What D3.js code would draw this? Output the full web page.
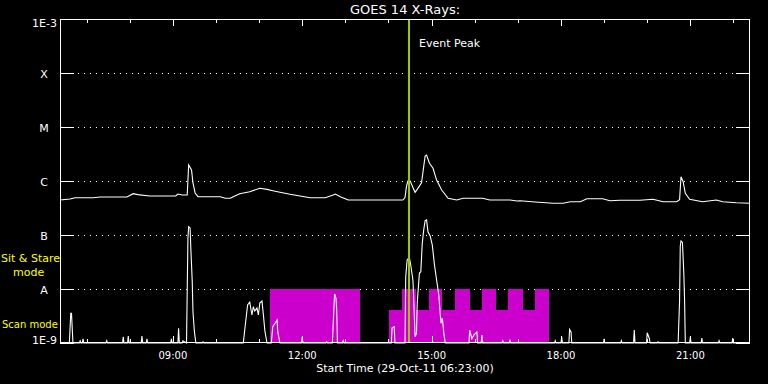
<!DOCTYPE html>
<html><head><meta charset="utf-8">
<script src="https://cdn.jsdelivr.net/npm/d3@7"></script>
<style>html,body{margin:0;padding:0;background:#000;}svg{display:block;}</style>
</head><body>
<svg id="chart" width="768" height="384"></svg>
<script>
// ---------- data ----------
const chartTitle = "GOES 14 X-Rays:";
const startLabel = "Start Time (29-Oct-11 06:23:00)";
const timeRange = ["06:23", "22:23"];
const decades = [-9, -8, -7, -6, -5, -4, -3];
const decadeLabels = ["1E-9", "A", "B", "C", "M", "X", "1E-3"];
const majorHours = [9, 12, 15, 18, 21];
const eventPeak = "14:29";
const eventLabel = "Event Peak";

// GOES long channel (1-8 A), W/m^2
const goesLong = [
 ["06:23",4.45e-7],["06:37",4.64e-7],["06:44",4.91e-7],["07:09",4.91e-7],["07:19",5.06e-7],["07:56",5.06e-7],
 ["08:05",5.82e-7],["08:11",5.6e-7],["08:28",5.27e-7],["09:04",5.27e-7],["09:07",5.74e-7],["09:13",5.5e-7],
 ["09:20",5.5e-7],["09:22",1.98e-6],["09:26",1.6e-6],["09:28",9.2e-7],["09:31",6.0e-7],["09:35",5.12e-7],
 ["10:06",5.12e-7],["10:13",4.78e-7],["10:20",4.78e-7],["10:24",5.12e-7],["10:33",5.82e-7],["10:47",6.34e-7],
 ["11:01",7.32e-7],["11:11",7.0e-7],["11:19",6.61e-7],["11:29",6.18e-7],["11:43",5.67e-7],["11:57",5.27e-7],
 ["12:11",4.91e-7],["12:32",4.91e-7],["12:43",5.5e-7],["12:46",5.74e-7],["12:53",5.12e-7],["13:04",4.45e-7],
 ["14:20",4.45e-7],["14:23",4.95e-7],["14:25",7.84e-7],["14:27",1.0e-6],["14:30",1.01e-6],["14:37",6.18e-7],
 ["14:41",7.32e-7],["14:46",9.3e-7],["14:51",2.9e-6],["14:53",3.03e-6],["14:57",2.13e-6],["15:02",1.72e-6],
 ["15:07",1.04e-6],["15:14",6.81e-7],["15:23",4.78e-7],["15:35",4.45e-7],["15:44",4.78e-7],["16:11",4.78e-7],
 ["16:21",4.45e-7],["16:49",4.45e-7],["16:59",4.26e-7],["17:03",4.32e-7],["17:24",4.08e-7],["17:49",3.86e-7],
 ["18:03",3.86e-7],["18:13",4.14e-7],["18:27",4.14e-7],["18:36",4.7e-7],["18:58",4.7e-7],["19:08",4.32e-7],
 ["19:22",4.39e-7],["19:50",4.39e-7],["20:08",4.58e-7],["20:22",4.14e-7],["20:41",4.14e-7],["20:45",4.5e-7],
 ["20:47",1.2e-6],["20:50",9.7e-7],["20:53",5.92e-7],["20:59",4.58e-7],["21:17",4.14e-7],["21:36",4.45e-7],
 ["21:45",4.14e-7],["22:04",3.96e-7],["22:23",3.86e-7]
];

// GOES short channel (0.5-4 A), W/m^2 (values at 1E-9 sit on the floor)
const goesShort = [
 ["06:23",1e-9],["06:36",1e-9],["06:38",3.55e-9],["06:39",3.55e-9],["06:41",1e-9],
 ["06:50",1e-9],["06:51",1.09e-9],["06:52",1e-9],["06:54",1e-9],["06:55",1.19e-9],["06:56",1e-9],
 ["07:27",1e-9],["07:28",1.1e-9],["07:29",1e-9],["07:50",1e-9],["07:51",1.3e-9],["07:52",1e-9],
 ["07:57",1e-9],["07:58",1.35e-9],["07:59",1e-9],["08:16",1e-9],["08:17",1.35e-9],["08:18",1e-9],
 ["08:23",1e-9],["08:24",1.2e-9],["08:25",1e-9],["08:57",1e-9],["08:58",1.2e-9],["08:59",1e-9],
 ["09:07",1e-9],["09:08",1.87e-9],["09:09",1e-9],["09:13",1e-9],["09:14",1.1e-9],["09:19",1e-9],
 ["09:21",8.8e-8],["09:22",1.43e-7],["09:24",1.35e-7],["09:25",5.74e-8],["09:27",1.37e-8],["09:28",3.8e-9],
 ["09:30",1.62e-9],["09:32",1e-9],["09:41",1e-9],["09:42",1.05e-9],["09:43",1e-9],
 ["10:38",1e-9],["10:40",1.74e-9],["10:44",5.06e-9],["10:47",5.74e-9],["10:50",3.3e-9],["10:52",4.7e-9],
 ["10:54",3.9e-9],["10:57",4.45e-9],["10:59",3.3e-9],["11:01",5.5e-9],["11:04",6.0e-9],["11:06",3.3e-9],
 ["11:08",1.7e-9],["11:11",1e-9],["11:17",1e-9],["11:19",2.0e-9],["11:22",2.3e-9],["11:25",2.67e-9],
 ["11:26",1.6e-9],["11:29",1e-9],["11:59",1e-9],["12:00",1.29e-9],["12:01",1e-9],
 ["12:33",1e-9],["12:34",1.05e-9],["12:35",1e-9],["12:42",1e-9],["12:43",2.1e-9],["12:45",8.1e-9],
 ["12:47",6.7e-9],["12:48",4.08e-9],["12:49",1e-9],["12:56",1e-9],["12:57",1.1e-9],["12:58",1e-9],
 ["14:04",1e-9],["14:05",1.9e-9],["14:08",2.0e-9],["14:09",1e-9],
 ["14:23",1e-9],["14:24",1.69e-8],["14:26",3.44e-8],["14:29",3.86e-8],["14:31",2.78e-8],["14:34",1.47e-8],
 ["14:35",7.2e-9],["14:37",1.31e-9],["14:39",1.51e-9],["14:40",5.43e-9],["14:43",1.95e-8],["14:45",2.09e-8],
 ["14:47",7.0e-8],["14:49",1.24e-7],["14:51",1.84e-7],["14:53",1.9e-7],["14:55",1.15e-7],["14:58",9.6e-8],
 ["15:01",6.5e-8],["15:04",2.78e-8],["15:07",1.47e-8],["15:10",7.7e-9],["15:13",2.32e-9],["15:15",2.87e-9],
 ["15:17",1.51e-9],["15:19",1e-9],
 ["15:52",1e-9],["15:53",1.74e-9],["15:56",1.2e-9],["15:59",1.41e-9],["16:03",1.6e-9],["16:04",1e-9],
 ["16:09",1e-9],["16:10",1.4e-9],["16:11",1e-9],["16:38",1e-9],["16:39",1.1e-9],["16:40",1e-9],
 ["16:48",1e-9],["16:49",1.15e-9],["16:50",1e-9],["17:51",1e-9],["17:52",1.1e-9],["17:53",1e-9],
 ["18:00",1e-9],["18:01",1.29e-9],["18:02",1e-9],["18:11",1e-9],["18:12",1.79e-9],["18:14",1.6e-9],["18:15",1e-9],
 ["18:59",1e-9],["19:00",1.2e-9],["19:01",1e-9],["19:23",1e-9],["19:24",1.1e-9],["19:25",1e-9],
 ["19:41",1e-9],["19:42",1.74e-9],["19:43",1e-9],["19:59",1e-9],["20:00",1.55e-9],["20:03",1.2e-9],["20:04",1e-9],
 ["20:14",1e-9],["20:15",1.05e-9],["20:16",1e-9],
 ["20:43",1e-9],["20:45",6e-9],["20:46",6.25e-8],["20:47",7.75e-8],["20:49",7.3e-8],["20:50",3.7e-8],
 ["20:51",1.82e-8],["20:52",6e-9],["20:53",1e-9],
 ["20:59",1e-9],["21:00",1.29e-9],["21:01",1e-9],["21:15",1e-9],["21:16",1.24e-9],["21:17",1e-9],
 ["21:39",1e-9],["21:40",1.1e-9],["21:41",1e-9],["21:58",1e-9],["21:59",1.24e-9],["22:00",1e-9],
 ["22:23",1e-9]
];

// Observation modes: interval start, end, mode
const modeNames = ["scan", "sit"];
const modeLabelLines = [["Scan mode"], ["Sit & Stare", "mode"]];
const modeTopFlux = [4.1e-9, 1e-8];
const obsBlocks = [
 ["11:15","13:20","sit"],
 ["14:01","17:43","scan"],
 ["14:19","14:38","sit"],["14:56","15:15","sit"],["15:33","15:53","sit"],
 ["16:10","16:30","sit"],["16:46","17:07","sit"],["17:24","17:43","sit"]
];

// ---------- drawing ----------
const svg = d3.select("#chart");
const W = 768, H = 384;
const m = {left: 60, right: 18, top: 19, bottom: 41};
const parse = s => { const [h, mi] = s.split(":").map(Number); return new Date(2011, 9, 29, h, mi); };

const x = d3.scaleTime().domain(timeRange.map(parse)).range([m.left, W - m.right]);
const y = d3.scaleLog().domain([1e-9, 1e-3]).range([H - m.bottom, m.top]).clamp(true);
const modeTop = d3.scaleOrdinal().domain(modeNames).range(modeTopFlux.map(v => y(v)));

svg.append("rect").attr("width", W).attr("height", H).attr("fill", "#000");

const font = "DejaVu Sans, Verdana, sans-serif";
const g = svg.append("g").attr("shape-rendering", "crispEdges");

// dotted grid at interior decades
g.selectAll("line.grid").data(decades.slice(1, -1)).join("line")
  .attr("x1", m.left + 18).attr("x2", W - m.right - 14)
  .attr("y1", d => Math.round(y(Math.pow(10, d))) + 0.5)
  .attr("y2", d => Math.round(y(Math.pow(10, d))) + 0.5)
  .attr("stroke", "#fff").attr("stroke-width", 1).attr("stroke-dasharray", "1 5");

// observation mode blocks
svg.append("g").attr("shape-rendering", "crispEdges")
  .selectAll("rect").data(obsBlocks).join("rect")
  .attr("x", d => x(parse(d[0])))
  .attr("width", d => x(parse(d[1])) - x(parse(d[0])))
  .attr("y", d => modeTop(d[2]))
  .attr("height", d => y(1e-9) - modeTop(d[2]))
  .attr("fill", "#cc00cc");

// curves
const line = d3.line().x(d => x(parse(d[0]))).y(d => y(d[1]));
[goesLong, goesShort].forEach(series => {
  svg.append("path").attr("d", line(series)).attr("fill", "none")
    .attr("stroke", "#fff").attr("stroke-width", 1.1).attr("stroke-linejoin", "miter");
});

// event peak line
const ex = Math.round(x(parse(eventPeak)));
svg.append("line").attr("x1", ex).attr("x2", ex).attr("y1", m.top).attr("y2", H - m.bottom)
  .attr("stroke", "#99cc00").attr("stroke-width", 2).attr("shape-rendering", "crispEdges");
svg.append("text").attr("x", ex + 10).attr("y", 47).attr("fill", "#fff")
  .attr("font-family", font).attr("font-size", 11).text(eventLabel);

// frame
const a = svg.append("g").attr("shape-rendering", "crispEdges").attr("stroke", "#fff").attr("stroke-width", 1);
a.append("rect").attr("x", m.left + 0.5).attr("y", m.top + 0.5)
  .attr("width", W - m.left - m.right - 1).attr("height", H - m.top - m.bottom - 1).attr("fill", "none");

// y ticks left & right
decades.forEach(d => {
  const yy = Math.round(y(Math.pow(10, d))) + 0.5;
  a.append("line").attr("x1", m.left).attr("x2", m.left + 14).attr("y1", yy).attr("y2", yy);
  a.append("line").attr("x1", W - m.right - 14).attr("x2", W - m.right).attr("y1", yy).attr("y2", yy);
});

// x ticks top & bottom (hourly, longer every 3 hours)
const hours = d3.timeHour.range(x.domain()[0], x.domain()[1]).filter(h => h > x.domain()[0]);
hours.forEach(h => {
  const xx = Math.round(x(h)) + 0.5;
  const len = majorHours.includes(h.getHours()) ? 7 : 4;
  a.append("line").attr("x1", xx).attr("x2", xx).attr("y1", m.top).attr("y2", m.top + len);
  a.append("line").attr("x1", xx).attr("x2", xx).attr("y1", H - m.bottom).attr("y2", H - m.bottom - len);
});

// y labels
const fmtT = d3.timeFormat("%H:%M");
svg.selectAll("text.ylab").data(decades).join("text")
  .attr("class", "ylab")
  .attr("x", (d, i) => decadeLabels[i].length > 1 ? 57 : 44)
  .attr("text-anchor", (d, i) => decadeLabels[i].length > 1 ? "end" : "middle")
  .attr("y", d => Math.min(Math.max(y(Math.pow(10, d)) + 4.5, 27), 344))
  .attr("fill", "#fff").attr("font-family", font).attr("font-size", 11)
  .text((d, i) => decadeLabels[i]);

// x labels
svg.selectAll("text.xlab").data(hours.filter(h => majorHours.includes(h.getHours()))).join("text")
  .attr("class", "xlab")
  .attr("x", d => x(d)).attr("y", 359).attr("text-anchor", "middle")
  .attr("fill", "#fff").attr("font-family", font).attr("font-size", 10)
  .text(d => fmtT(d));

svg.append("text").attr("x", (m.left + W - m.right) / 2).attr("y", 372).attr("text-anchor", "middle")
  .attr("fill", "#fff").attr("font-family", font).attr("font-size", 11).text(startLabel);

svg.append("text").attr("x", (m.left + W - m.right) / 2).attr("y", 14).attr("text-anchor", "middle")
  .attr("fill", "#fff").attr("font-family", font).attr("font-size", 13).text(chartTitle);

// mode labels (yellow, left margin)
svg.append("text").attr("x", 2).attr("y", 328).attr("fill", "#ffff00")
  .attr("font-family", font).attr("font-size", 10).text(modeLabelLines[0][0]);
svg.append("text").attr("x", 1).attr("y", 262).attr("fill", "#ffff00")
  .attr("font-family", font).attr("font-size", 11).text(modeLabelLines[1][0]);
svg.append("text").attr("x", 13).attr("y", 276).attr("fill", "#ffff00")
  .attr("font-family", font).attr("font-size", 11).text(modeLabelLines[1][1]);
</script>
</body></html>
